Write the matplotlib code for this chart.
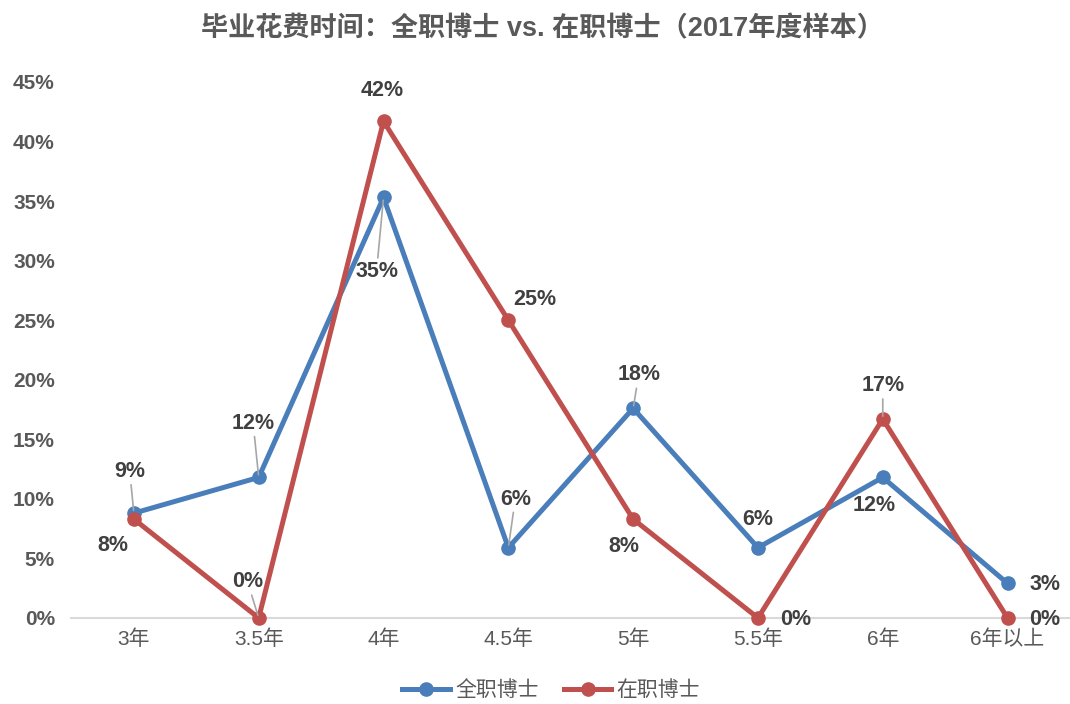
import matplotlib
matplotlib.use("Agg")
import matplotlib.pyplot as plt
from matplotlib.ticker import FuncFormatter

plt.rcParams["font.family"] = ["Liberation Sans", "Noto Sans CJK SC", "DejaVu Sans"]

categories = ["3年", "3.5年", "4年", "4.5年", "5年", "5.5年", "6年", "6年以上"]
full_time = [8.8, 11.8, 35.3, 5.9, 17.6, 5.9, 11.8, 2.9]     # 全职博士 (%)
part_time = [8.3, 0.0, 41.7, 25.0, 8.3, 0.0, 16.7, 0.0]      # 在职博士 (%)

# label offsets in points (dx, dy) and whether a leader line is drawn
full_offsets = [(-3, 30), (-4, 39), (-5, -53), (5, 35), (4, 24), (0, 20), (-6, -20), (27, -1)]
full_leaders = [True, True, True, True, True, False, False, False]
part_offsets = [(-15, -19), (-8, 26), (-1, 22), (19, 15), (-7, -20), (27, -1), (0, 24), (27, -1)]
part_leaders = [False, True, False, False, False, False, True, False]

BLUE = "#4A7EBB"
RED = "#C0504D"
TEXT = "#404040"
AXIS_TEXT = "#595959"

fig = plt.figure(figsize=(10.7, 7.04), dpi=100)
ax = fig.add_axes([0.0668, 0.1222, 0.9332, 0.7614])

x = list(range(len(categories)))
ax.plot(x, full_time, color=BLUE, lw=3.6, marker="o", ms=9.5, label="全职博士",
        solid_joinstyle="round", zorder=3)
ax.plot(x, part_time, color=RED, lw=3.6, marker="o", ms=9.5, label="在职博士",
        solid_joinstyle="round", zorder=4)


def label_points(values, offsets, leaders):
    for xi, v, (dx, dy), lead in zip(x, values, offsets, leaders):
        arrow = None
        if lead:
            arrow = dict(arrowstyle="-", color="#A6A6A6", lw=1.2, shrinkA=0, shrinkB=2)
        ax.annotate(f"{v:.0f}%", xy=(xi, v), xytext=(dx, dy), textcoords="offset points",
                    ha="center", va="center", fontsize=15.5, fontweight="bold",
                    color=TEXT, arrowprops=arrow, zorder=5)


label_points(full_time, full_offsets, full_leaders)
label_points(part_time, part_offsets, part_leaders)

ax.set_xlim(-0.5, len(categories) - 0.5)
ax.set_ylim(0, 45)
ax.set_yticks(range(0, 46, 5))
ax.yaxis.set_major_formatter(FuncFormatter(lambda v, _: f"{v:.0f}%"))
ax.set_xticks(x)
ax.set_xticklabels(categories)

for side in ("top", "right", "left"):
    ax.spines[side].set_visible(False)
ax.spines["bottom"].set_color("#D9D9D9")
ax.spines["bottom"].set_linewidth(1.5)
ax.spines["bottom"].set_zorder(1)
ax.tick_params(axis="both", length=0)
ax.tick_params(axis="y", pad=12, labelsize=15, labelcolor=AXIS_TEXT)
ax.tick_params(axis="x", pad=8, labelsize=15, labelcolor=AXIS_TEXT)
for t in ax.get_yticklabels():
    t.set_fontweight("bold")
for line in ax.lines:
    line.set_clip_on(False)

fig.text(0.5065, 0.958, "毕业花费时间：全职博士 vs. 在职博士（2017年度样本）",
         ha="center", va="center", fontsize=19.5, fontweight="bold", color=AXIS_TEXT)

fig.legend(loc="center", bbox_to_anchor=(0.515, 0.02), ncol=2, frameon=False,
           fontsize=15, handlelength=2.3, columnspacing=1.2, handletextpad=0.25,
           labelcolor=AXIS_TEXT)

fig.savefig("out.png", dpi=100)
